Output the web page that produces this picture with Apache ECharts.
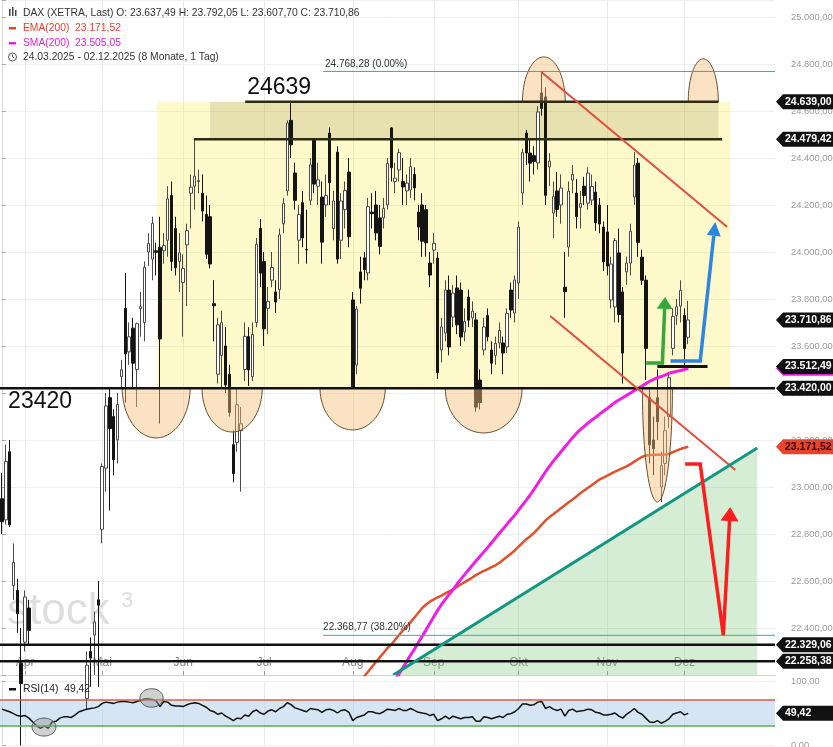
<!DOCTYPE html>
<html><head><meta charset="utf-8">
<script src="https://cdn.jsdelivr.net/npm/echarts@6/dist/echarts.min.js"></script>
<style>html,body{margin:0;padding:0;background:#fff}#c{width:833px;height:747px}</style>
</head><body><div id="c"></div>
<script>
const FONT = '"Liberation Sans", Arial, Helvetica, sans-serif';

// ---- calendar ----
const startDate = [2025, 2, 24];
const holidays = ['2025-04-18','2025-04-21','2025-05-01','2025-12-24','2025-12-25','2025-12-26','2025-12-31','2026-01-01'];
const tradingDays = 179;
const futureDays = 22;
const monthLabels = {4:'Apr',5:'Mai',6:'Jun',7:'Jul',8:'Aug',9:'Sep',10:'Okt',11:'Nov',12:'Dez'};

// ---- DAX daily OHLC (24.03.2025 - 02.12.2025) ----
const open = [22950,22860,23150,22580,22560,22250,22340,22485,21900,21500,
19700,20200,19800,21000,20400,20800,21000,21200,21300,21200,
21700,21900,22100,22300,22370,22520,22820,23080,23380,23300,
23200,23470,23760,23575,23676,23500,23760,23700,24000,23970,
24005,24020,24005,24050,24240,24100,23960,23870,24030,24250,
24280,24300,24250,24160,24150,23780,23480,23560,23600,23480,
23180,23190,23240,23500,23640,23470,23700,24100,23960,23760,
23880,23830,23840,24120,24260,24560,24336,24050,24210,24010,
24220,24479,24280,24234,24200,24506,24100,24425,24050,24180,
24340,23796,23519,23915,23975,23911,24170,24200,24145,24145,
24200,24528,24300,24349,24300,24260,24264,24330,24170,24200,
24180,23953,24008,23974,23583,23655,23838,23723,23847,23838,
23660,23808,23720,23711,23455,23583,23730,23583,23560,23613,
23613,23596,23838,23740,23868,24251,24506,24421,24410,24379,
24677,24660,24362,24166,24260,24200,23850,24021,24306,24251,
24190,24280,24208,24221,24255,24200,24106,24085,23796,23766,
23996,23830,23915,23953,24234,24378,23978,23880,23380,23200,
23380,23000,23100,23300,23590,23730,23770,23730,23637.49];
const high = [23060,23180,23200,22760,22610,22400,22560,22520,22000,21600,
20100,20500,20300,21300,20600,21100,21300,21400,21400,21400,
22100,22100,22300,22360,22470,22600,23100,23400,23420,23330,
23400,23540,23910,23700,23720,23700,23830,23960,24080,24150,
24040,24150,24080,24280,24300,24150,24080,23990,24120,24330,
24479.42,24350,24330,24240,24200,23880,23720,23750,23680,23520,
23240,23420,23340,23700,23680,23700,24060,24140,24000,23850,
24000,23880,24100,24230,24560,24639,24380,24200,24260,24180,
24400,24479.42,24380,24300,24330,24530,24260,24450,24250,24300,
24400,23830,23770,23980,24000,24230,24250,24260,24200,24230,
24400,24532,24380,24440,24400,24330,24400,24360,24200,24250,
24200,24000,24080,24000,23720,23880,23900,23860,23900,23870,
23760,23840,23790,23740,23500,23720,23760,23620,23640,23700,
23640,23760,23870,23900,24130,24440,24520,24480,24450,24620,
24768.28,24700,24420,24300,24340,24330,24000,24300,24370,24310,
24260,24320,24360,24330,24300,24230,24130,24200,23980,24060,
24100,23850,23980,24120,24425,24400,24010,23900,23420,23300,
23500,23150,23300,23480,23760,23800,23880,23760,23792.05];
const low = [22800,22840,22830,22520,22380,21900,22300,22330,21600,20500,
18490,19900,19300,20400,20200,20700,20900,21100,21100,21000,
21600,21800,22050,22150,22200,22150,22760,22980,22900,23050,
23100,23420,23360,23520,23420,23340,23640,23620,23940,23880,
23900,23270,23950,23980,23920,23900,23830,23640,23770,24100,
24180,24250,24130,23970,23930,23620,23440,23420,23400,23300,
23020,23150,22980,23450,23430,23450,23680,23850,23600,23650,
23850,23740,23800,24080,24240,24400,24180,23950,24020,23950,
24200,24250,24200,23950,24150,24200,24050,23950,23970,24100,
24020,23420,23480,23780,23880,23880,24100,24050,23990,24100,
24180,24300,24250,24300,24200,24200,24230,24220,24050,23980,
23980,23850,23950,23460,23530,23620,23560,23680,23650,23600,
23620,23680,23680,23320,23330,23560,23620,23480,23520,23590,
23480,23570,23720,23700,23800,24200,24370,24300,24330,24350,
24580,24200,24280,24060,24150,24120,23720,23980,24250,24100,
24100,24200,24180,24200,24090,24080,23920,23900,23760,23700,
23700,23440,23860,23900,24200,23980,23860,23455,23100,23050,
23200,22936,23050,23250,23560,23690,23700,23500,23607.70];
const close = [22852,23109,22839,22679,22461,22163,22532,22390,21717,20642,
19790,20280,19670,20563,20374,20954,21254,21311,21206,21294,
21962,22065,22242,22272,22426,22497,23087,23345,23249,23116,
23352,23499,23566,23639,23527,23695,23767,23935,24036,24122,
23999,23630,24027,24226,23960,23933,23997,23930,24091,24276,
24323,24304,24174,23990,23949,23771,23690,23699,23434,23317,
23057,23350,23269,23641,23498,23649,24033,23910,23673,23790,
23934,23787,24073,24206,24549,24456,24220,24160,24060,24009,
24371,24289,24307,24042,24240,24295,24217,23970,24217,24262,
24065,23425,23757,23846,23925,24193,24163,24081,24024,24186,
24377,24359,24314,24423,24277,24293,24363,24273,24106,24046,
24039,23902,24037,23487,23681,23838,23596,23825,23690,23638,
23704,23710,23748,23340,23359,23681,23639,23527,23611,23666,
23570,23739,23753,23881,24106,24423,24421,24378,24385,24596,
24611,24241,24387,24236,24181,24272,23831,24258,24330,24151,
24207,24240,24336,24279,24124,24119,23958,23940,23949,24049,
23734,23570,23953,24088,24370,24041,23880,23590,23180,23163,
23278,23091,23240,23465,23726,23767,23837,23589,23710.86];

// ---- indicators ----
const emaStart = 88;
const ema200 = [21990,22020,22060,22100,22135,22170,22195,22215,22235,22255,
22275,22295,22315,22330,22350,22370,22390,22405,22425,22445,
22465,22485,22500,22512,22522,22530,22538,22547,22556,22565,
22575,22585,22595,22605,22615,22626,22635,22643,22651,22659,
22667,22677,22690,22703,22716,22730,22746,22762,22778,22790,
22805,22822,22840,22858,22872,22884,22897,22910,22922,22935,
22947,22960,22973,22985,22997,23008,23020,23032,23040,23048,
23057,23065,23073,23080,23088,23097,23108,23118,23128,23134,
23136,23137,23137,23137,23138,23140,23148,23155,23162,23167,
23171.52];
const smaStart = 98;
const sma200 = [22060,22090,22120,22150,22180,22205,22232,22258,22285,22310,
22338,22365,22392,22420,22448,22475,22500,22522,22543,22563,
22586,22607,22627,22647,22667,22686,22705,22724,22743,22763,
22783,22803,22822,22842,22862,22880,22902,22923,22944,22966,
22990,23015,23040,23065,23088,23110,23130,23150,23170,23190,
23210,23228,23244,23258,23272,23285,23297,23310,23322,23334,
23347,23360,23370,23380,23390,23400,23410,23420,23430,23440,
23450,23458,23465,23470,23476,23484,23488,23492,23496,23500,
23505.05];
const rsi14 = [56,54,52,49,46,45,46,42,36,30,
26,30,26,36,37,42,44,44,43,47,
52,54,56,57,58,60,65,67,66,65,
67,68,68,67,66,68,70,72,72,71,
69,60,68,67,62,61,61,60,63,65,
66,65,62,59,54,52,48,50,45,42,
38,42,41,47,45,52,55,50,48,53,
55,52,57,60,66,63,58,56,54,52,
57,56,55,51,55,56,54,50,54,55,
51,38,43,45,47,52,52,50,49,52,
56,55,54,57,54,54,57,54,51,50,
49,46,48,38,41,45,41,45,43,41,
43,43,44,37,37,44,43,41,43,45,
43,48,49,52,57,64,64,62,63,67,
68,57,60,56,54,56,45,54,56,52,
53,54,56,55,51,50,47,47,48,50,
45,42,48,52,57,51,48,42,36,35,
38,34,37,41,48,50,52,47,49.42];

// ---- drawn levels ----
const levels = {top:24639, top2:24479.42, support:23420, fib0:24768.28, fib382:22368.77, low1:22329.06, low2:22258.38, mark:23512.49};
const yMin = 22200, yStep = 200, yTop = 25072.34;

// ---- helpers ----
function fmt(v, d){ d = d===undefined?2:d; const s=Math.abs(v).toFixed(d).split('.'); const ip=s[0].replace(/\B(?=(\d{3})+(?!\d))/g,'.'); return (v<0?'-':'')+ip+(d?','+s[1]:''); }
function buildDates(){ const out=[]; const d=new Date(Date.UTC(startDate[0],startDate[1],startDate[2]));
  while(out.length<tradingDays+futureDays){ const dow=d.getUTCDay(); const s=d.toISOString().slice(0,10);
    if(dow!==0&&dow!==6&&holidays.indexOf(s)<0) out.push(s); d.setUTCDate(d.getUTCDate()+1);} return out; }
const dates = buildDates();
const N = dates.length;
const monthStart = new Set();
for(let i=1;i<tradingDays;i++){ if(dates[i].slice(5,7)!==dates[i-1].slice(5,7)) monthStart.add(i); }
const isMonthStart = (i)=>monthStart.has(i);
const padSeries = (start, vals)=>{ const a=new Array(tradingDays).fill(null); vals.forEach((v,k)=>a[start+k]=v); return a; };

// zones under indicator lines (x in trading-day index units)
const zones = [
  {kind:'rect', x:[40.2,188.9], y:[levels.support, levels.top], fill:'rgba(250,236,80,0.30)'},
  {kind:'rect', x:[54.0,185.8], y:[levels.top2, levels.top], fill:'rgba(110,100,40,0.16)'},
  {kind:'poly', pts:[[101.5,yMin],[195.9,23166],[195.9,yMin]], fill:'rgba(120,200,120,0.32)'}
];
const ellFill='rgba(245,190,120,0.45)', ellStroke='#6b4d2e';
const drawings = [
  {kind:'semi', x:[31.2,48.8], base:levels.support, edge:23209},
  {kind:'semi', x:[51.9,67.5], base:levels.support, edge:23234},
  {kind:'semi', x:[82.5,99.4], base:levels.support, edge:23243},
  {kind:'semi', x:[115.0,134.9], base:levels.support, edge:23230},
  {kind:'semi', x:[135.0,146.1], base:levels.top, edge:24830},
  {kind:'semi', x:[178.0,185.8], base:levels.top, edge:24822},
  {kind:'semi', x:[166.1,173.9], base:levels.support, edge:22936},
  {kind:'hline', y:levels.support, x:[-0.5,N-0.5], color:'#111', w:2.5},
  {kind:'hline', y:levels.low1, x:[-0.5,N-0.5], color:'#111', w:2.5},
  {kind:'hline', y:levels.low2, x:[-0.5,N-0.5], color:'#111', w:2.5},
  {kind:'hline', y:levels.top, x:[63.1,185.8], color:'#2e2b14', w:2.5},
  {kind:'hline', y:levels.top2, x:[49.8,186.8], color:'#2e2b14', w:2.5},
  {kind:'hline', y:levels.fib0, x:[83.3,N-0.5], color:'#4aa69e', w:1},
  {kind:'hline', y:levels.fib382, x:[83.3,N-0.5], color:'#4aa69e', w:1},
  {kind:'hline', y:levels.mark, x:[170,183], color:'#111', w:3},
  {kind:'path', pts:[[139.9,24766],[188.1,24106]], color:'#e44c3e', w:2},
  {kind:'path', pts:[[142.2,23728],[190.2,23072]], color:'#e44c3e', w:2},
  {kind:'path', pts:[[101.5,yMin],[195.9,23166]], color:'#149682', w:3},
  {kind:'arrow', pts:[[167.1,23528],[171.3,23528],[172.0,23809]], color:'#35a83a', w:3.5, hl:12, hw:8},
  {kind:'arrow', pts:[[173.4,23536],[181.1,23536],[185.0,24128]], color:'#2a86e0', w:3.5, hl:14, hw:7},
  {kind:'arrow', pts:[[177.2,23098],[181.1,23098],[187.1,22370],[188.9,22915]], color:'#ff1c1c', w:3.5, hl:14, hw:9},
  {kind:'text', x:63.6, y:24698, text:String(levels.top), size:23},
  {kind:'text', x:1.6, y:23362, text:String(levels.support), size:23},
  {kind:'text', x:83.8, y:24800, text:fmt(levels.fib0)+' (0.00%)', size:10, color:'#333'},
  {kind:'text', x:83.3, y:22404, text:fmt(levels.fib382)+' (38.20%)', size:10, color:'#333'}
];
const rsiMarks = [
  {kind:'ell', x:[7.8,14.0], y:[14,42]},
  {kind:'ell', x:[35.8,41.8], y:[59,88]}
];

function renderer(list){
  return function(params, api){
    const d=list[params.dataIndex]; const P=p=>api.coord(p);
    if(d.kind==='rect'){ const a=P([d.x[0],d.y[1]]), b=P([d.x[1],d.y[0]]);
      return {type:'rect', shape:{x:a[0],y:a[1],width:b[0]-a[0],height:b[1]-a[1]}, style:{fill:d.fill}}; }
    if(d.kind==='poly'){ return {type:'polygon', shape:{points:d.pts.map(P)}, style:{fill:d.fill}}; }
    if(d.kind==='hline'){ const a=P([d.x[0],d.y]), b=P([d.x[1],d.y]);
      return {type:'line', shape:{x1:a[0],y1:a[1],x2:b[0],y2:b[1]}, style:{stroke:d.color,lineWidth:d.w}}; }
    if(d.kind==='path'){ return {type:'polyline', shape:{points:d.pts.map(P)}, style:{stroke:d.color,lineWidth:d.w,fill:'none'}}; }
    if(d.kind==='arrow'){ const pts=d.pts.map(P); const n=pts.length, tip=pts[n-1], prev=pts[n-2];
      const dx=tip[0]-prev[0], dy=tip[1]-prev[1], L=Math.hypot(dx,dy), ux=dx/L, uy=dy/L;
      const bx=tip[0]-ux*d.hl, by=tip[1]-uy*d.hl;
      const line=pts.slice(0,n-1).concat([[bx,by]]);
      const head=[tip,[bx-uy*d.hw,by+ux*d.hw],[bx+uy*d.hw,by-ux*d.hw]];
      return {type:'group', children:[
        {type:'polyline', shape:{points:line}, style:{stroke:d.color,lineWidth:d.w,fill:'none',lineJoin:'miter'}},
        {type:'polygon', shape:{points:head}, style:{fill:d.color}}]}; }
    if(d.kind==='semi'){ const a=P([d.x[0],d.base]), b=P([d.x[1],d.base]), e=P([(d.x[0]+d.x[1])/2,d.edge]);
      const cx=(a[0]+b[0])/2, cy=a[1], rx=(b[0]-a[0])/2, ry=e[1]-cy; const pts=[];
      for(let k=0;k<=48;k++){const t=Math.PI*k/48; pts.push([cx+rx*Math.cos(t), cy+ry*Math.sin(t)]);}
      return {type:'polygon', shape:{points:pts}, style:{fill:ellFill, stroke:ellStroke, lineWidth:1}}; }
    if(d.kind==='ell'){ const a=P([d.x[0],d.y[1]]), b=P([d.x[1],d.y[0]]);
      const cx=(a[0]+b[0])/2, cy=(a[1]+b[1])/2, rx=(b[0]-a[0])/2, ry=(b[1]-a[1])/2; const pts=[];
      for(let k=0;k<64;k++){const t=2*Math.PI*k/64; pts.push([cx+rx*Math.cos(t), cy+ry*Math.sin(t)]);}
      return {type:'polygon', shape:{points:pts}, style:{fill:'rgba(150,150,150,0.45)', stroke:'#555', lineWidth:1}}; }
    if(d.kind==='text'){ const a=P([d.x,d.y]);
      return {type:'text', x:a[0], y:a[1], style:{text:d.text, fill:d.color||'#111', fontSize:d.size, fontFamily:FONT, align:'left', verticalAlign:'middle'}}; }
    return null;
  };
}

const chart = echarts.init(document.getElementById('c'), null, {renderer:'canvas'});
const gridLine = {show:true, interval:isMonthStart, alignWithLabel:true, lineStyle:{color:'#e9e9e9', width:1}};
const onStep = v => Math.abs(v/yStep-Math.round(v/yStep))<1e-6;
const option = {
  animation:false, backgroundColor:'#fff', textStyle:{fontFamily:FONT},
  grid:[
    {left:0, right:58, top:0, height:675, outerBoundsMode:'none', containLabel:false},
    {left:0, right:58, top:681, height:64, outerBoundsMode:'none', containLabel:false}
  ],
  xAxis:[
    {type:'category', gridIndex:0, data:dates, boundaryGap:true,
     axisLine:{show:true, lineStyle:{color:'#cfcfcf'}},
     axisTick:{show:true, inside:true, length:4, interval:isMonthStart, alignWithLabel:true, lineStyle:{color:'#999'}},
     axisLabel:{show:true, inside:true, interval:isMonthStart, margin:6, color:'#888', fontSize:12, fontFamily:FONT,
       formatter:(v)=>monthLabels[+v.slice(5,7)]||''},
     splitLine:gridLine},
    {type:'value', gridIndex:0, min:-0.5, max:N-0.5, show:false},
    {type:'category', gridIndex:1, data:dates, boundaryGap:true, axisLine:{show:false}, axisTick:{show:false}, axisLabel:{show:false}, splitLine:gridLine},
    {type:'value', gridIndex:1, min:-0.5, max:N-0.5, show:false}
  ],
  yAxis:[
    {type:'value', gridIndex:0, position:'right', min:yMin, max:yTop, interval:yStep,
     axisLine:{show:true, lineStyle:{color:'#dcdcdc'}}, axisTick:{show:true, length:4, lineStyle:{color:'#aaa'}},
     axisLabel:{color:'#9a9a9a', fontSize:9.4, margin:16, fontFamily:FONT, formatter:(v)=> (onStep(v) && v>yMin)? fmt(v):''},
     splitLine:{show:true, lineStyle:{color:'#eeeeee'}}},
    {type:'value', gridIndex:1, position:'right', min:0, max:100, interval:100,
     axisLine:{show:true, lineStyle:{color:'#dcdcdc'}}, axisTick:{show:true, length:4, lineStyle:{color:'#aaa'}},
     axisLabel:{color:'#9a9a9a', fontSize:9.4, margin:16, fontFamily:FONT, formatter:(v)=>fmt(v)},
     splitLine:{show:true, lineStyle:{color:'#eeeeee'}}}
  ],
  series:[
    {type:'candlestick', name:'DAX', xAxisIndex:0, yAxisIndex:0, z:2, clip:true, barWidth:3,
     data:open.map((o,i)=>[o, close[i], low[i], high[i]]),
     itemStyle:{color:'#ffffff', color0:'#141414', borderColor:'#4a4a4a', borderColor0:'#141414', borderWidth:1}},
    {type:'custom', name:'zones', xAxisIndex:1, yAxisIndex:0, z:2, clip:true, silent:true,
     data:zones.map(()=>[0,23000]), renderItem:renderer(zones)},
    {type:'line', name:'EMA(200)', xAxisIndex:0, yAxisIndex:0, z:3, data:padSeries(emaStart, ema200), symbol:'none', clip:true,
     lineStyle:{color:'#e1502d', width:2.5}},
    {type:'line', name:'SMA(200)', xAxisIndex:0, yAxisIndex:0, z:3, data:padSeries(smaStart, sma200), symbol:'none', clip:true,
     lineStyle:{color:'#ee1ee6', width:3}},
    {type:'custom', name:'drawings', xAxisIndex:1, yAxisIndex:0, z:4, clip:true, silent:true,
     data:drawings.map(()=>[0,23000]), renderItem:renderer(drawings)},
    {type:'line', name:'RSI(14)', xAxisIndex:2, yAxisIndex:1, z:4, data:rsi14, symbol:'none',
     lineStyle:{color:'#111', width:1.5},
     markArea:{silent:true, itemStyle:{color:'rgba(185,212,236,0.6)'}, data:[[{yAxis:30},{yAxis:70}]]},
     markLine:{silent:true, symbol:'none', label:{show:false}, data:[
       {yAxis:70, lineStyle:{color:'#d65a4a', width:1.5, type:'solid'}},
       {yAxis:30, lineStyle:{color:'#56ad56', width:1.5, type:'solid'}}]}},
    {type:'custom', name:'rsiMarks', xAxisIndex:3, yAxisIndex:1, z:5, clip:true, silent:true,
     data:rsiMarks.map(()=>[0,50]), renderItem:renderer(rsiMarks)}
  ]
};
chart.setOption(option);

// ---- price tags, legend, watermark ----
const last = tradingDays-1;
const yPx = v=>chart.convertToPixel({yAxisIndex:0}, v);
const rPx = v=>chart.convertToPixel({yAxisIndex:1}, v);
const tags = [
  {y:yPx(levels.top), t:fmt(levels.top), bg:'#111', fg:'#fff'},
  {y:yPx(levels.top2), t:fmt(levels.top2), bg:'#111', fg:'#fff'},
  {y:yPx(close[last]), t:fmt(close[last]), bg:'#111', fg:'#fff'},
  {y:yPx(sma200[sma200.length-1]), t:fmt(sma200[sma200.length-1]), bg:'#e41ee0', fg:'#fff'},
  {y:yPx(levels.mark), t:fmt(levels.mark), bg:'#111', fg:'#fff'},
  {y:yPx(levels.support), t:fmt(levels.support), bg:'#111', fg:'#fff'},
  {y:yPx(ema200[ema200.length-1]), t:fmt(ema200[ema200.length-1]), bg:'#e8432c', fg:'#2a0505'},
  {y:yPx(levels.low1), t:fmt(levels.low1), bg:'#111', fg:'#fff'},
  {y:yPx(levels.low2), t:fmt(levels.low2), bg:'#111', fg:'#fff'},
  {y:rPx(rsi14[last]), t:fmt(rsi14[last]), bg:'#111', fg:'#fff'}
];
const g = [];
tags.forEach((tg,k)=>{
  const y=tg.y, h=7.5, z=100+2*k;
  g.push({type:'polygon', z:z, shape:{points:[[776,y],[783,y-h],[833,y-h],[833,y+h],[783,y+h]]}, style:{fill:tg.bg}});
  g.push({type:'text', z:z+1, x:785, y:y, style:{text:tg.t, fill:tg.fg, fontSize:10.5, fontWeight:'bold', fontFamily:FONT, align:'left', verticalAlign:'middle'}});
});
// watermark
g.push({type:'text', z:0, x:7, y:612, style:{text:'stock', fill:'#dedede', fontSize:44, fontFamily:FONT, align:'left', verticalAlign:'middle'}});
g.push({type:'text', z:0, x:121, y:601, style:{text:'3', fill:'#dedede', fontSize:22, fontFamily:FONT, align:'left', verticalAlign:'middle'}});
// legend
const hdr = 'DAX (XETRA, Last) O: '+fmt(open[last])+' H: '+fmt(high[last])+' L: '+fmt(low[last])+' C: '+fmt(close[last]);
[[9,9,1.5,7],[12,7,1.5,9],[15,10,1.5,6]].forEach(r=>g.push({type:'rect', z:100, shape:{x:r[0],y:r[1],width:r[2],height:r[3]}, style:{fill:'#444'}}));
const legFont = 10.3;
g.push({type:'text', z:100, x:23, y:13, style:{text:hdr, fill:'#333', fontSize:legFont, fontFamily:FONT, align:'left', verticalAlign:'middle'}});
g.push({type:'rect', z:100, shape:{x:9,y:27,width:7,height:2.5}, style:{fill:'#e5432f'}});
g.push({type:'text', z:100, x:23, y:28, style:{text:'EMA(200)  '+fmt(ema200[ema200.length-1]), fill:'#e5432f', fontSize:legFont, fontFamily:FONT, align:'left', verticalAlign:'middle'}});
g.push({type:'rect', z:100, shape:{x:9,y:42,width:7,height:2.5}, style:{fill:'#e41ee0'}});
g.push({type:'text', z:100, x:23, y:43, style:{text:'SMA(200)  '+fmt(sma200[sma200.length-1]), fill:'#e41ee0', fontSize:legFont, fontFamily:FONT, align:'left', verticalAlign:'middle'}});
g.push({type:'circle', z:100, shape:{cx:12.5,cy:57,r:4}, style:{fill:'none', stroke:'#555', lineWidth:1}});
g.push({type:'polyline', z:100, shape:{points:[[12.5,54.5],[12.5,57],[14.5,58]]}, style:{fill:'none', stroke:'#555', lineWidth:1}});
g.push({type:'text', z:100, x:23, y:57, style:{text:dates[0].split('-').reverse().join('.')+' - '+dates[last].split('-').reverse().join('.')+' (8 Monate, 1 Tag)', fill:'#333', fontSize:legFont, fontFamily:FONT, align:'left', verticalAlign:'middle'}});
// RSI legend
g.push({type:'rect', z:100, shape:{x:9,y:688,width:7,height:2.5}, style:{fill:'#111'}});
g.push({type:'text', z:100, x:23, y:689, style:{text:'RSI(14)  '+fmt(rsi14[last]), fill:'#222', fontSize:legFont, fontFamily:FONT, align:'left', verticalAlign:'middle'}});
chart.setOption({graphic:{elements:g}});
</script>
</body></html>
